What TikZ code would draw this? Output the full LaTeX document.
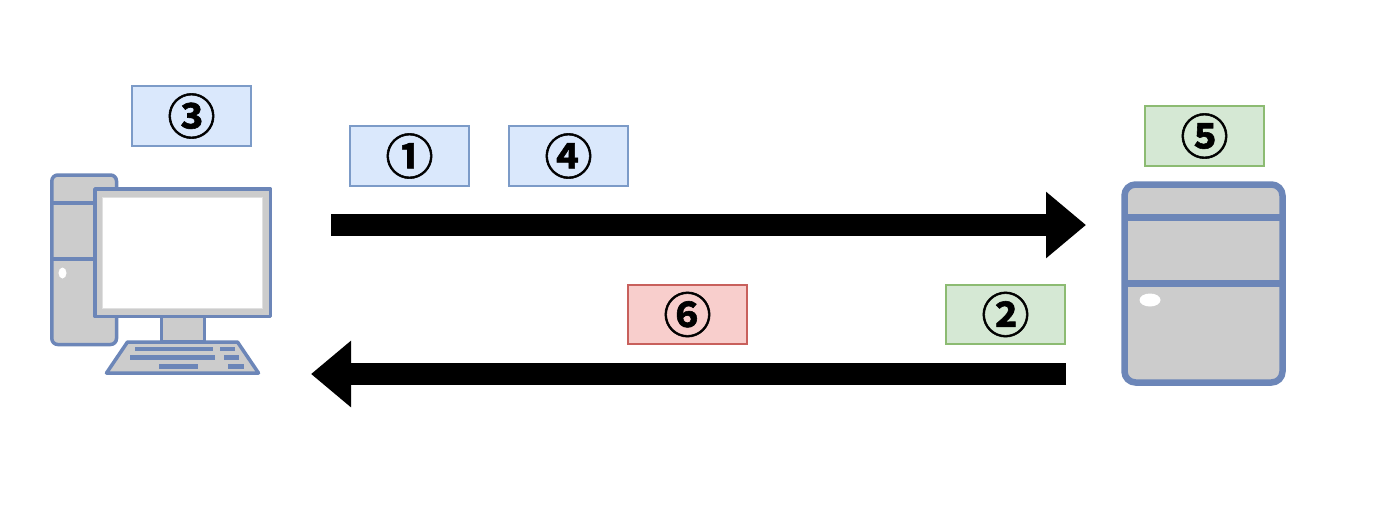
\documentclass[tikz,border=0pt]{standalone}
\usepackage{fontspec}
\newfontfamily\cjk[RawFeature={embolden=1.2}]{Noto Sans CJK JP Bold}
\usetikzlibrary{arrows.meta}
\definecolor{devline}{HTML}{6C86B8}
\definecolor{devfill}{HTML}{CCCCCC}
\definecolor{tagblue}{HTML}{7C9BC8}\definecolor{tagbluef}{HTML}{DAE8FC}
\definecolor{taggreen}{HTML}{8CBB72}\definecolor{taggreenf}{HTML}{D5E8D4}
\definecolor{tagred}{HTML}{C8605C}\definecolor{tagredf}{HTML}{F8CECC}
\tikzset{
  tag/.style={minimum width=119pt,minimum height=59.5pt,inner sep=0pt,line width=1.6pt,
    font=\cjk\fontsize{48pt}{48pt}\selectfont},
  bluetag/.style={tag,draw=tagblue,fill=tagbluef},
  greentag/.style={tag,draw=taggreen,fill=taggreenf},
  redtag/.style={tag,draw=tagred,fill=tagredf},
  bigarrow/.style={line width=22pt,-{Triangle[length=40pt,width=64pt]},black},
  dev/.style={draw=devline,fill=devfill,line join=round},
  key/.style={fill=devline,draw=none}
}
\begin{document}
\begin{tikzpicture}[x=1pt,y=-1pt]
\useasboundingbox (0,0) rectangle (1400,504);
\fill[white] (0,0) rectangle (1400,504);
% tags
\node[bluetag] (n3) at (191.5,116) {\raisebox{1pt}{③}};
\node[bluetag] (n1) at (409.5,156) {\raisebox{1pt}{①}};
\node[bluetag] (n4) at (568.5,156) {\raisebox{1pt}{④}};
\node[greentag] (n5) at (1204.5,136) {\raisebox{1pt}{⑤}};
\node[greentag] (n2) at (1005.5,314.5) {\raisebox{1pt}{②}};
\node[redtag] (n6) at (687.5,314.5) {\raisebox{1pt}{⑥}};
% arrows
\coordinate (a1s) at (331,225);
\coordinate (a1e) at (1086,225);
\coordinate (a2s) at (1066,374);
\coordinate (a2e) at (311,374);
\draw[bigarrow] (a1s) -- (a1e);
\draw[bigarrow] (a2s) -- (a2e);
% tower
\draw[dev,line width=3.5pt,rounded corners=6pt] (51.8,175) rectangle (116.5,344.5);
\draw[devline,line width=3.5pt] (51.8,203) -- (96,203) (51.8,259) -- (96,259);
\fill[white] (62.5,273) ellipse (4pt and 5.5pt);
% stand
\draw[dev,line width=3.5pt] (161.5,316) rectangle (204.5,342);
% monitor
\draw[dev,line width=3.5pt] (95,189) rectangle (270.5,316.5);
\fill[white] (102,197) rectangle (262,308);
\draw[white!88!black,line width=0.8pt] (102,197) rectangle (262,308);
% keyboard
\draw[dev,line width=3.5pt] (127.5,342) -- (237.5,342) -- (258.5,373) -- (106.5,373) -- cycle;
\fill[key] (135,346.5) rectangle (213,351);
\fill[key] (220,346.5) rectangle (235,351);
\fill[key] (130,355) rectangle (215,360);
\fill[key] (224,355) rectangle (239,360);
\fill[key] (159,364) rectangle (198,368.5);
\fill[key] (228,364) rectangle (244,368.5);
% server
\draw[dev,line width=6.5pt,rounded corners=11pt] (1124.5,184.5) rectangle (1282.5,382.5);
\draw[devline,line width=6.5pt] (1124.5,217.5) -- (1282.5,217.5) (1124.5,283.5) -- (1282.5,283.5);
\fill[white] (1150,300) ellipse (10.5pt and 6.5pt);
\end{tikzpicture}
\end{document}
